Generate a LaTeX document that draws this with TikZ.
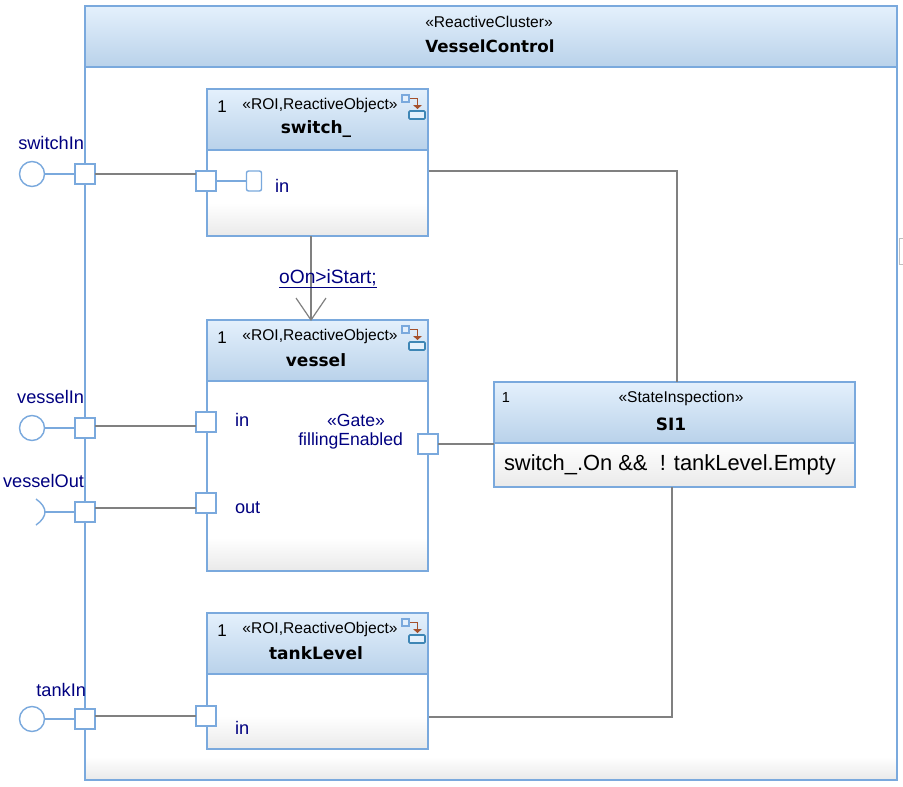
\documentclass[tikz,border=0pt]{standalone}
\usepackage{fontspec}
\setmainfont{Liberation Sans}
\newfontfamily\dvfont{DejaVu Sans}
\usetikzlibrary{calc,arrows.meta}
\definecolor{umlborder}{HTML}{7AA9DD}
\definecolor{umlnavy}{HTML}{000080}
\definecolor{umlgrey}{HTML}{808080}
\definecolor{hdrtop}{HTML}{E4F0FC}
\definecolor{hdrbot}{HTML}{B9D2EA}
\definecolor{bodybot}{HTML}{EAEAEA}
\definecolor{iconred}{HTML}{A5502A}
\definecolor{iconblue}{HTML}{3E86B5}
\tikzset{
  x=1pt,y=-1pt,
  every node/.style={inner sep=0pt,outer sep=0pt},
  boxframe/.style={anchor=north west,draw=umlborder,line width=2pt,fill=white},
  hdrfill/.style={anchor=north west,draw=umlborder,line width=2pt,top color=hdrtop,bottom color=hdrbot},
  footfill/.style={anchor=south west,top color=white,bottom color=bodybot},
  portbox/.style={draw=umlborder,line width=1.6pt,fill=white,minimum width=20pt,minimum height=20pt},
  lollipop/.style={draw=umlborder,line width=1.4pt,circle,fill=white,minimum size=25pt},
  stublink/.style={draw=umlborder,line width=1.4pt},
  wire/.style={draw=umlgrey,line width=1.2pt},
  portlabel/.style={text=umlnavy,font=\fontsize{18.2}{21}\selectfont},
  gatelabel/.style={text=umlnavy,font=\fontsize{17.6}{21}\selectfont},
  stereo/.style={font=\fontsize{15.6}{18}\selectfont},
  title/.style={font=\dvfont\bfseries\fontsize{17}{20}\selectfont},
  multi/.style={font=\fontsize{17}{20}\selectfont},
}
% name, x, y, w, h, header h, foot h
\newcommand{\umlbox}[7]{%
  \node[boxframe,minimum width=#4pt,minimum height=#5pt] (#1) at (#2,#3) {};
  \node[footfill,minimum width=#4pt-2pt,minimum height=#7pt] (#1foot) at ($(#1.south west)+(1,-1)$) {};
  \node[hdrfill,minimum width=#4pt,minimum height=#6pt] (#1head) at (#2,#3) {};
  \draw[draw=umlborder,line width=2pt] (#1.north west) rectangle (#1.south east);
}
% icon at x,y (top-left)
\newcommand{\roiicon}[2]{%
  \begin{scope}[shift={(#1,#2)}]
    \draw[draw=iconred,line width=1.4pt] (7,3.5) -- (15.5,3.5) -- (15.5,11);
    \fill[iconred] (11,10) -- (20,10) -- (15.5,14) -- cycle;
    \draw[draw=umlborder,line width=1.4pt,fill=hdrtop] (0,0) rectangle (7,7);
    \draw[draw=iconblue,line width=1.7pt,fill=hdrtop,rounded corners=1pt] (7,16) rectangle (23,24);
  \end{scope}}
\begin{document}
\begin{tikzpicture}
\useasboundingbox (0,0) rectangle (903,787);
\fill[white] (0,0) rectangle (903,787);

% outer
\umlbox{outer}{85}{6}{812}{774}{61}{22}
\node[stereo] (outerstereo) at (489,22) {«ReactiveCluster»};
\node[title,font=\dvfont\bfseries\fontsize{16.7}{20}\selectfont] (outertitle) at (490,46) {VesselControl};

% stray grey bracket at right
\draw[draw=black!25,line width=.8pt] (903,238) -- (899,238) -- (899,264) -- (903,264);

% parts
\umlbox{switchbox}{207}{89}{221}{147}{61}{32}
\umlbox{vesselbox}{207}{320}{221}{251}{61}{32}
\umlbox{tankbox}{207}{613}{221}{136}{61}{32}
\umlbox{sibox}{494}{382}{361}{105}{61}{44}

\foreach \nm/\yy/\ttl in {sw/89/switch\_,ve/320/vessel,ta/613/tankLevel}{
  \node[multi] (\nm multi) at (222,\yy+18) {1};
  \node[stereo] (\nm stereo) at (320,\yy+16) {«ROI,ReactiveObject»};
  \node[title] (\nm title) at (316,\yy+40) {\ttl};
  \roiicon{402}{\yy+6}
}
\node[font=\fontsize{14.5}{17}\selectfont] (simulti) at (506,398) {1};
\node[stereo] (sistereo) at (681,398) {«StateInspection»};
\node[title] (sititle) at (671,424) {SI1};
\node[anchor=west,font=\fontsize{21.9}{26}\selectfont] (sitext) at (504,465) {switch\_.On \&\& \ ! tankLevel.Empty};

% anchors of free wire bends and ends
\coordinate (swright) at (429,171);
\coordinate (swbend) at (677,171);
\coordinate (sitop) at (677,382);
\coordinate (sibot) at (672,487);
\coordinate (tabend) at (672,717);
\coordinate (taright) at (429,717);
\coordinate (swbot) at (311,236);
\coordinate (vetop) at (311,320);
\coordinate (barbl) at (296,298);
\coordinate (barbr) at (326,298);

% ports
\node[lollipop] (swlol) at (32,174) {};
\node[lollipop] (velol) at (32,428) {};
\node[lollipop] (talol) at (32,719) {};
\coordinate (vesock) at (45,512);
\draw[stublink] (36,499) .. controls (42,503) and (45,508) .. (vesock) .. controls (45,516) and (42,521) .. (36,525);

\node[portbox] (swout) at (85,174) {};
\node[portbox] (veiout) at (85,428) {};
\node[portbox] (veoout) at (85,512) {};
\node[portbox] (taout) at (85,719) {};

\node[portbox] (swin) at (206,181) {};
\node[portbox] (vein) at (206,422) {};
\node[portbox] (veot) at (206,503) {};
\node[portbox] (tain) at (206,716) {};
\node[portbox] (gate) at (428,444) {};
\node[draw=umlborder,line width=1.4pt,fill=white,rounded corners=2pt,minimum width=15pt,minimum height=20pt] (swsub) at (254,181) {};

% stubs
\draw[stublink] (swlol) -- (swout);
\draw[stublink] (velol) -- (veiout);
\draw[stublink] (talol) -- (taout);
\draw[stublink] (vesock) -- (veoout);
\draw[stublink] (swin) -- (swsub);

% wires
\draw[wire] (swout.east) -- (swout.east -| swin.west);
\draw[wire] ($(veiout.east)+(0,-2)$) -- ($(vein.west)+(0,4)$);
\draw[wire] ($(veoout.east)+(0,-4)$) -- ($(veot.west)+(0,5)$);
\draw[wire] ($(taout.east)+(0,-3)$) -- (tain.west);
\draw[wire] (swright) -- (swbend) -- (sitop);
\draw[wire] (gate) -- (gate -| sibox.west);
\draw[wire] (sibot) -- (tabend) -- (taright);
\draw[wire] (swbot) -- (vetop);
\draw[wire] (barbl) -- (vetop) -- (barbr);

% labels
\node[portlabel,anchor=east] (l1) at (84,143) {switchIn};
\node[portlabel,anchor=east] (l2) at (84,397) {vesselIn};
\node[portlabel,anchor=east] (l3) at (84,481) {vesselOut};
\node[portlabel,anchor=east] (l4) at (86,690) {tankIn};
\node[portlabel,anchor=west] (l5) at (275,186) {in};
\node[portlabel,anchor=west] (l6) at (235,420) {in};
\node[portlabel,anchor=west] (l7) at (235,508) {out};
\node[portlabel,anchor=west] (l8) at (235,728) {in};
\node[gatelabel,anchor=east] (l9) at (403,441) {fillingEnabled};
\node[gatelabel] (l10) at (356,420) {«Gate»};
\node[portlabel,font=\fontsize{19.2}{22}\selectfont] (l11) at (328,279) {\underline{oOn>iStart;}};
\end{tikzpicture}
\end{document}
